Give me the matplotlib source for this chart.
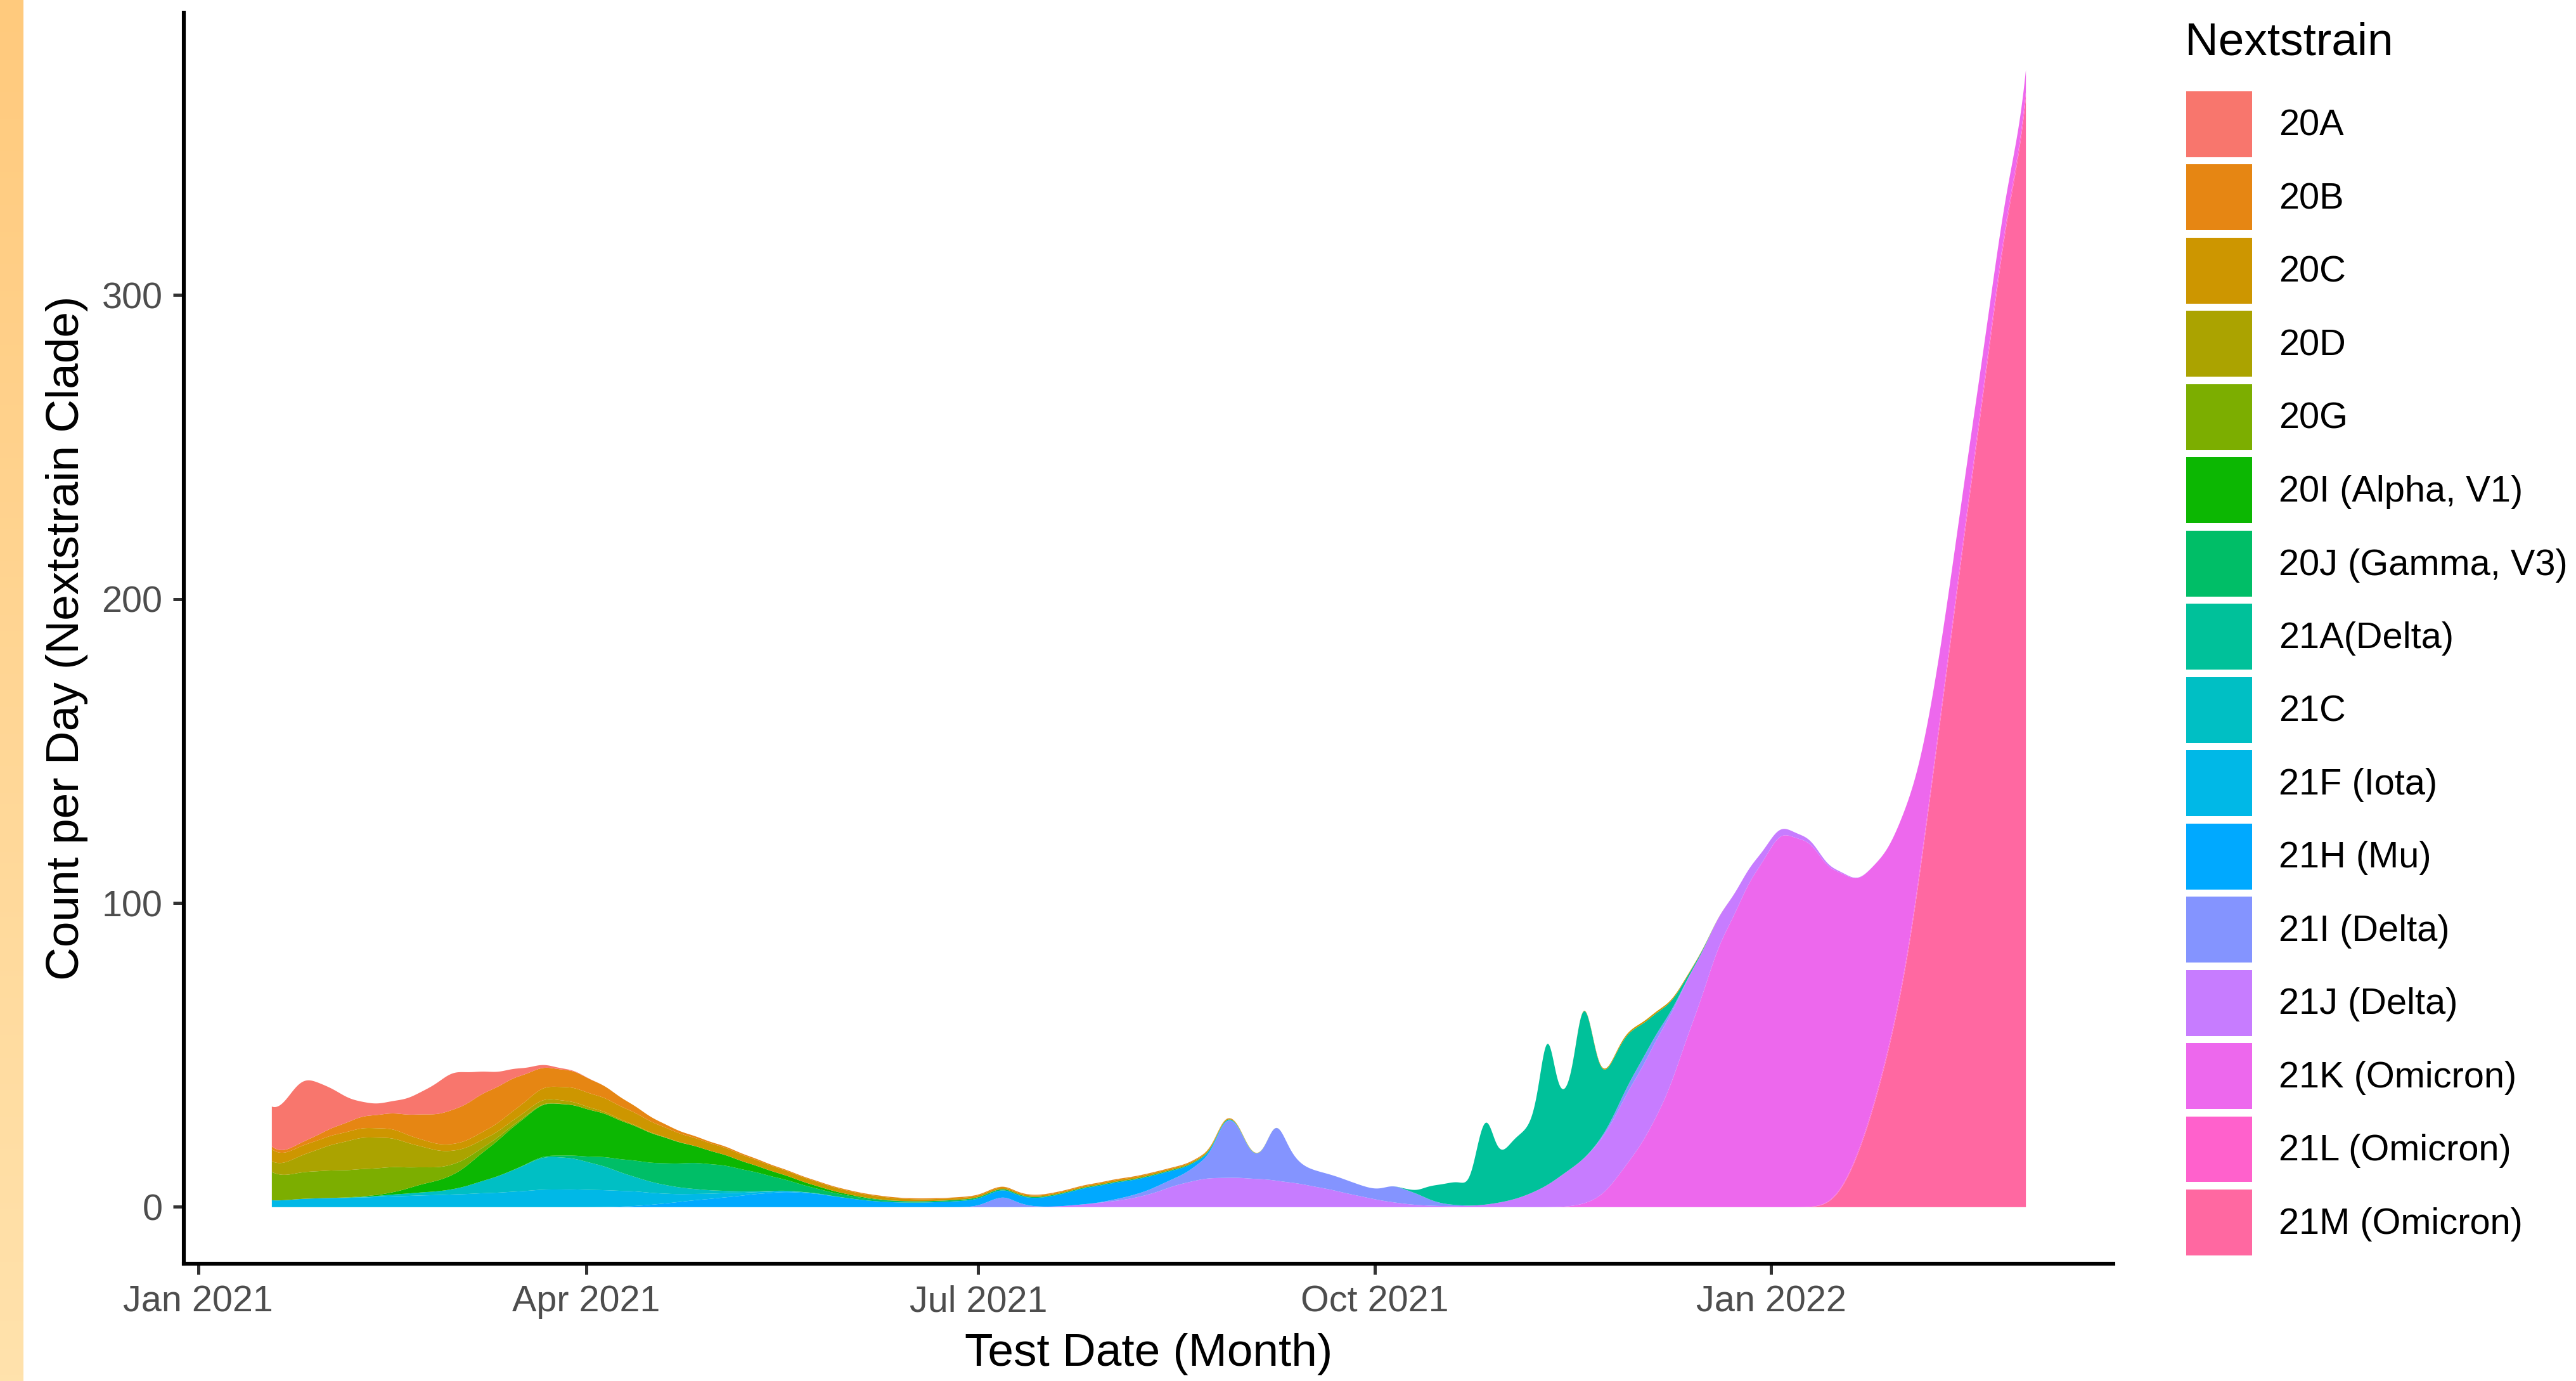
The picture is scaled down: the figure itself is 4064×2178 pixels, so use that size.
import math

import numpy as np
import matplotlib
matplotlib.use("Agg")
import matplotlib.pyplot as plt
import matplotlib.dates as mdates
from matplotlib.patches import Patch

plt.rcParams["font.family"] = ["Liberation Sans", "DejaVu Sans"]

clades = ["20A", "20B", "20C", "20D", "20G", "20I (Alpha, V1)", "20J (Gamma, V3)",
          "21A(Delta)", "21C", "21F (Iota)", "21H (Mu)", "21I (Delta)", "21J (Delta)",
          "21K (Omicron)", "21L (Omicron)", "21M (Omicron)"]
colors = ["#F8766D", "#E68613", "#CD9600", "#ABA300", "#7CAE00", "#0CB702", "#00BE67",
          "#00C19A", "#00BFC4", "#00B8E7", "#00A9FF", "#8494FF", "#C77CFF", "#ED68ED",
          "#FF61CC", "#FF68A1"]

# sequenced tests per batch; batches start at first_batch and repeat every batch_step days
first_batch = ["2021-01-18", "2021-01-18", "2021-01-18", "2021-01-18", "2021-01-18",
               "2021-02-08", "2021-03-22", "2021-10-07", "2021-02-08", "2021-01-18",
               "2021-04-12", "2021-07-01", "2021-07-19", "2021-11-22", "2022-01-17",
               "2022-01-14"]
batch_step = [7, 7, 7, 7, 7, 7, 7, 2, 7, 7, 7, 3, 7, 7, 7, 2]
bandwidth = [4, 4, 4, 4, 4, 4, 4, 1.5, 4, 4, 4, 2, 4, 4, 4, 2.5]   # days

n_20A = [30, 165, 88, 25, 24, 50, 99, 47, 20, 5, 1]
n_20B = [3, 7, 17, 27, 34, 59, 80, 91, 78, 42, 39, 28, 15, 7, 4, 3, 3,
         2, 2, 2, 2, 2, 2, 2, 2, 2, 2, 2, 2, 2, 2, 2, 1]
n_20C = [15, 22, 21, 22, 22, 15, 15, 18, 21, 27, 34, 32, 29, 22, 18, 17, 13, 11, 10, 8,
         7, 5, 4, 4, 4, 3, 3, 3, 4, 4, 3, 3, 1, 0, 0, 0, 0, 0, 0, 0,
         0, 0, 0, 0, 2, 4, 4, 2]
n_20D = [9, 39, 60, 75, 68, 46, 31, 17, 10, 10, 7, 4, 2, 1]
n_20G = [33, 63, 63, 63, 61, 37, 24, 10, 4, 1]
n_20I = [1, 3, 20, 29, 66, 100, 124, 117, 101, 80, 60, 38, 24, 15, 10, 6, 3, 1]
n_20J = [2, 5, 21, 38, 49, 62, 60, 45, 25, 10, 6, 4, 3, 3, 3, 3, 2, 2, 2, 2,
         2, 2, 2, 1, 0]
n_21A = [0, 1, 2, 8, 11, 13, 15, 16, 10, 45, 68, 32, 32, 40, 42, 44, 60, 124, 56, 50,
         60, 118, 85, 42, 36, 38, 36, 30, 23, 17, 12, 7, 4, 2, 1, 1]
n_21C = [1, 4, 7, 10, 28, 48, 79, 72, 56, 32, 20, 11, 5, 2, 1]
n_21F = [7, 20, 21, 22, 25, 27, 29, 32, 35, 41, 41, 39, 35, 22, 14, 10, 4, 2, 1]
n_21H = [2, 8, 16, 22, 30, 36, 32, 21, 13, 10, 11, 15, 17, 16, 25, 39, 39, 32, 18, 3, 1]
n_21I = [1, 7, 12, 4, 1, 0, 0, 0, 0, 0,
         1, 2, 3, 4, 6, 7, 9, 16, 22, 63,
         57, 22, 20, 70, 30, 18, 16, 15, 14, 12,
         10, 10, 18, 14, 11, 5, 2, 1, 0, 0,
         0, 0, 0, 0, 0, 0, 0, 0, 1, 3,
         6, 8, 7, 4, 2]
n_21J = [1, 7, 14, 26, 52, 68, 68, 64, 55, 42, 26, 12, 4, 2, 3, 13, 37, 84, 125, 168,
         185, 128, 62, 30, 15, 8, 2]
n_21K = [14, 104, 210, 403, 614, 749, 874, 844, 733, 561, 400, 159, 118, 76, 26]
n_21L = [2, 6, 8, 10, 12, 14, 8]
n_21M = [1, 5, 14, 26, 40, 58, 78, 100, 124, 152, 186, 232, 274, 316, 360, 404, 448,
         490, 532, 574, 620, 666, 714, 402]

batch_counts = [n_20A, n_20B, n_20C, n_20D, n_20G, n_20I, n_20J, n_21A, n_21C, n_21F,
                n_21H, n_21I, n_21J, n_21K, n_21L, n_21M]

origin = np.datetime64("2021-01-01")
batch_days = []
for start, step, n in zip(first_batch, batch_step, batch_counts):
    d0 = (np.datetime64(start) - origin).astype(int)
    batch_days.append(d0 + step * np.arange(len(n)))

lo = min(d.min() for d in batch_days)
hi = max(d.max() for d in batch_days)
grid = np.linspace(lo, hi, 2400)

erf = np.vectorize(math.erf)


def count_density(x, days, n, bw):
    """Gaussian kernel density scaled to counts per day, over the sampled range."""
    z = (x[:, None] - days[None, :]) / bw
    dens = np.exp(-0.5 * z ** 2) @ np.asarray(n, float) / (bw * math.sqrt(2 * math.pi))
    inside = 0.5 * (erf((hi - x) / (bw * math.sqrt(2))) - erf((lo - x) / (bw * math.sqrt(2))))
    return dens / inside


curves = [count_density(grid, d, n, bw) for d, n, bw in zip(batch_days, batch_counts, bandwidth)]

fig = plt.figure(figsize=(20.32, 10.89), dpi=200)

# coloured strip down the left edge
strip = fig.add_axes([0, 0, 37 / 4064, 1])
shade = np.linspace(0, 1, 256)[:, None, None]
top_c = np.array([255, 202, 125]) / 255
bot_c = np.array([255, 226, 172]) / 255
strip.imshow(top_c + (bot_c - top_c) * shade, aspect="auto")
strip.axis("off")

ax = fig.add_axes([290 / 4064, 185 / 2178, 3044 / 4064, 1972.7 / 2178])
xnum = mdates.date2num(origin) + grid

# last level sits at the bottom of the stack
base = np.zeros_like(grid)
for i in reversed(range(len(clades))):
    top = base + curves[i]
    ax.fill_between(xnum, base, top, color=colors[i], linewidth=0)
    base = top

ymax = base.max()
ax.set_ylim(-0.05 * ymax, 1.05 * ymax)
span = xnum[-1] - xnum[0]
ax.set_xlim(xnum[0] - 0.05 * span, xnum[-1] + 0.05 * span)

ax.set_yticks([0, 100, 200, 300])
ax.xaxis.set_major_locator(mdates.MonthLocator(bymonth=[1, 4, 7, 10]))
ax.xaxis.set_major_formatter(mdates.DateFormatter("%b %Y"))

for side in ["top", "right"]:
    ax.spines[side].set_visible(False)
for side in ["left", "bottom"]:
    ax.spines[side].set_linewidth(2.2)
    ax.spines[side].set_color("black")
ax.tick_params(axis="both", length=6.1, width=1.8, color="#333333",
               labelsize=20.7, labelcolor="#4D4D4D")
ax.tick_params(axis="y", pad=6)
ax.tick_params(axis="x", pad=5.8)

ax.set_xlabel("Test Date (Month)", fontsize=26.3)
ax.set_ylabel("Count per Day (Nextstrain Clade)", fontsize=26.3)
ax.xaxis.set_label_coords(0.5, -0.0552)
ax.yaxis.set_label_coords(-0.0496, 0.5)

fig.text(3447 / 4064, 1 - 68 / 2178, "Nextstrain", fontsize=26.3, va="center", ha="left")
handles = [Patch(facecolor=c, edgecolor="none", label=l) for c, l in zip(colors, clades)]
fig.legend(handles=handles, loc="upper left", bbox_to_anchor=(3449 / 4064, 1 - 144 / 2178),
           frameon=False, fontsize=20.8, handlelength=1.8, handleheight=2.39,
           labelspacing=0.2, handletextpad=0.73, borderpad=0, borderaxespad=0)

fig.savefig("out.png", dpi=200)
